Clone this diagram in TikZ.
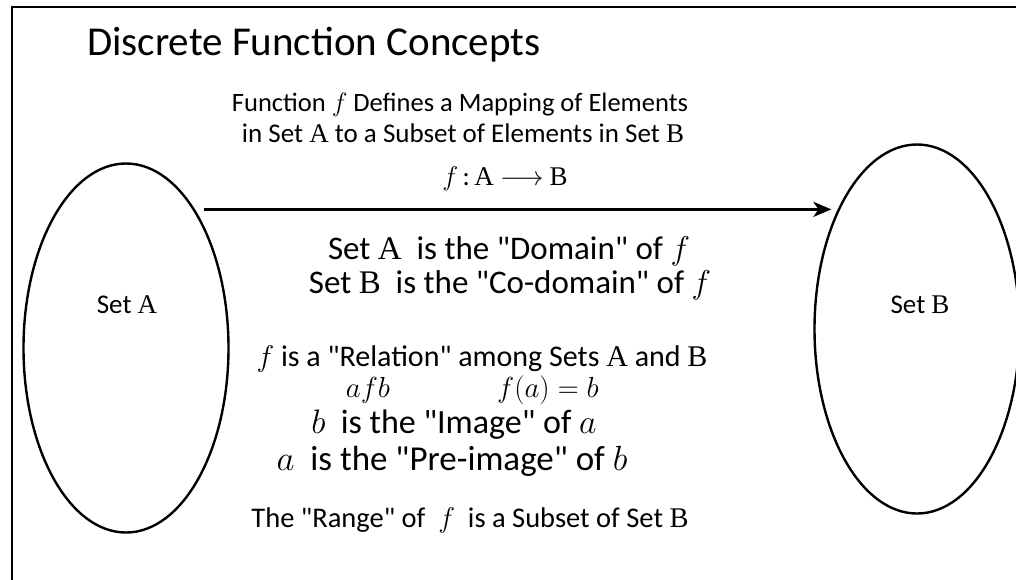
\RequirePackage{fix-cm}
\documentclass[tikz,border=0pt]{standalone}
\usepackage{fontspec}
\setmainfont{Carlito}
\newfontfamily\calib{Carlito}
\newfontfamily\ser{Liberation Serif}
\usetikzlibrary{shapes.geometric,arrows.meta}
\tikzset{
  setshape/.style={ellipse, draw, line width=2.4pt, minimum width=205pt, minimum height=369pt, inner sep=0pt, outer sep=0pt},
  txt/.style={anchor=base, inner sep=0pt, text=black, font=\calib},
  mapto/.style={line width=3pt, -{Stealth[length=18pt,width=15pt,inset=5pt]}},
  frame/.style={line width=2pt},
}
\newcommand{\fs}[1]{\fontsize{#1}{#1}\selectfont}
\newcommand{\sA}{{\ser A}}
\newcommand{\sB}{{\ser B}}
\begin{document}
\begin{tikzpicture}[x=1pt,y=-1pt]
\useasboundingbox (0,0) rectangle (1016,579);
\clip (0,0) rectangle (1016,579);
\fill[white] (0,0) rectangle (1016,579);
\draw[frame] (12,585) -- (12,7) -- (1020,7);
% title
\node[txt, anchor=base west] (title) at (87,55) {\fs{41}Discrete Function Concepts};
% sets
\node[setshape] (setA) at (126,348) {};
\node[setshape] (setB) at (917,329) {};
\node[txt] (labA) at (127,313) {\fs{27}Set \sA};
\node[txt] (labB) at (920,313) {\fs{27}Set \sB};
% arrow
\draw[mapto] ([xshift=10pt]setA.64.3) -- ([xshift=-9pt]setA.64.3 -| setB.122);
% texts
\node[txt] (t1) at (460,111) {\fs{26.5}Function $f$ Defines a Mapping of Elements};
\node[txt] (t2) at (463,142) {\fs{27}in Set \sA\ to a Subset of Elements in Set \sB};
\node[txt] (t3) at (505,185) {\fs{27}$f$\,:\,\sA\ $\longrightarrow$ \sB};
\node[txt] (t4) at (509,259) {\fs{33}Set \sA\ \ is the "Domain" of $f$};
\node[txt] (t5) at (510,293) {\fs{33}Set \sB\ \ is the "Co-domain" of $f$};
\node[txt] (t6) at (482,366) {\fs{30}$f$ is a "Relation" among Sets \sA\ and \sB};
\node[txt] (t7a) at (368,397) {\fs{29}$afb$};
\node[txt] (t7b) at (548,397) {\fs{29}$f(a)=b$};
\node[txt] (t8) at (454,433) {\fs{34}$b$\ \ is the "Image" of $a$};
\node[txt] (t9) at (452,470) {\fs{35}$a$\ \ is the "Pre-image" of $b$};
\node[txt] (t10) at (470,527) {\fs{28.5}The "Range" of\ \ $f$\ \ is a Subset of Set \sB};
\end{tikzpicture}
\end{document}
